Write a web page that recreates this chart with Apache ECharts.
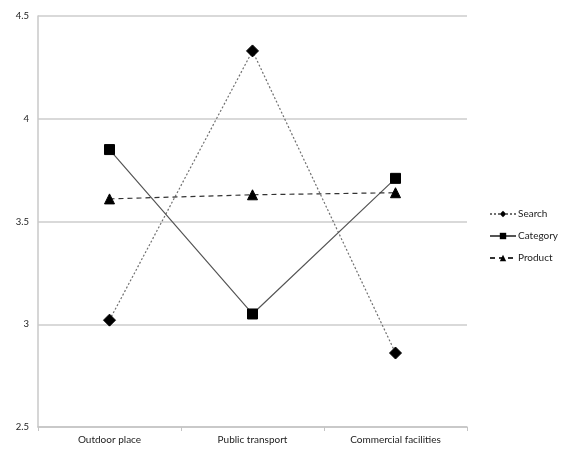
<!DOCTYPE html>
<html>
<head>
<meta charset="utf-8">
<script src="https://cdn.jsdelivr.net/npm/echarts@6/dist/echarts.min.js"></script>
<style>
  html, body { margin: 0; padding: 0; background: #fff; }
  #chart { width: 566px; height: 451px; }
</style>
</head>
<body>
<div id="chart"></div>
<script>
// Mean ratings by location type for each of the three interface modes
const categories = ['Outdoor place', 'Public transport', 'Commercial facilities'];
const searchValues = [3.02, 4.33, 2.86];
const categoryValues = [3.85, 3.05, 3.71];
const productValues = [3.61, 3.63, 3.64];
const yTicks = [2.5, 3, 3.5, 4, 4.5];

const FONT = 'Lato, "Liberation Sans", sans-serif';

function lineSeries(name, data, symbol, symbolSize, lineType, lineColor) {
  return {
    name: name,
    type: 'line',
    data: data,
    symbol: symbol,
    symbolSize: symbolSize,
    lineStyle: { color: lineColor, width: 1.2, type: lineType },
    itemStyle: { color: '#000', borderColor: '#000' },
    emphasis: { disabled: true },
    animation: false
  };
}

const chart = echarts.init(document.getElementById('chart'), null, { renderer: 'canvas' });
chart.setOption({
  backgroundColor: '#fff',
  animation: false,
  grid: { left: 38, right: 99, top: 16, bottom: 24, containLabel: false },
  xAxis: {
    type: 'category',
    data: categories,
    boundaryGap: true,
    axisLine: { lineStyle: { color: '#c4c4c4', width: 1.5 } },
    axisTick: { show: true, length: 4, lineStyle: { color: '#c4c4c4' } },
    axisLabel: { color: '#222', fontFamily: FONT, fontSize: 10, margin: 8 }
  },
  yAxis: {
    type: 'value',
    min: yTicks[0],
    max: yTicks[yTicks.length - 1],
    interval: 0.5,
    axisLine: { show: true, lineStyle: { color: '#c8c8c8', width: 1.5 } },
    axisTick: { show: false },
    axisLabel: { color: '#222', fontFamily: FONT, fontSize: 9.5, margin: 9 },
    splitLine: { lineStyle: { color: '#cccccc', width: 1.5 } }
  },
  legend: {
    orient: 'vertical',
    left: 484,
    top: 204,
    itemGap: 12,
    itemWidth: 26,
    itemHeight: 8,
    textStyle: { color: '#222', fontFamily: FONT, fontSize: 10, padding: [0, 0, 0, -3] },
    data: ['Search', 'Category', 'Product']
  },
  series: [
    lineSeries('Search', searchValues, 'diamond', 12, [2, 2], '#707070'),
    lineSeries('Category', categoryValues, 'rect', 10, 'solid', '#555'),
    lineSeries('Product', productValues, 'triangle', 10, [5, 4], '#333')
  ]
});
</script>
</body>
</html>
